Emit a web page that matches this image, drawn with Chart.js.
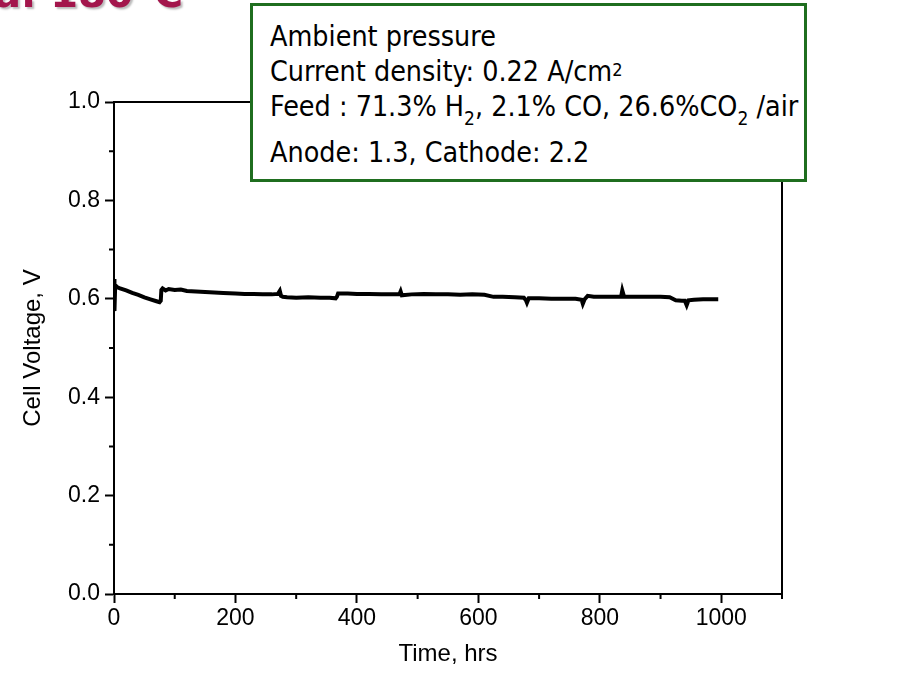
<!DOCTYPE html>
<html>
<head>
<meta charset="utf-8">
<script src="https://cdn.jsdelivr.net/npm/chart.js@4.4.1/dist/chart.umd.min.js"></script>
<style>
  body { margin: 0; background: #fff; }
  #wrap { position: relative; width: 898px; height: 674px; overflow: hidden; }
  #cellChart { position: absolute; left: 0; top: 0; }
  #headline {
    position: absolute; right: 715px; top: -30px; line-height: 40px;
    font: bold 40px 'DejaVu Sans', sans-serif; color: #a3164c;
    text-shadow: 2px 2px 2px #bbb; white-space: nowrap;
  }
  #note {
    position: absolute; left: 250px; top: 3px; width: 551px; height: 173px;
    border: 3.5px solid #1f6e1f; background: #fff;
    font-family: 'DejaVu Sans Condensed', 'DejaVu Sans', sans-serif; font-size: 28.4px; color: #000;
  }
  #note div { position: absolute; left: 17px; line-height: 30px; white-space: nowrap; }
  #note sub { font-size: 19px; vertical-align: -9px; line-height: 0; }
  #note sup { font-size: 18px; vertical-align: 5px; line-height: 0; }
</style>
</head>
<body>
<div id="wrap">
  <canvas id="cellChart" width="898" height="674"></canvas>
  <div id="headline">Durability test at ca. 180°C</div>
  <div id="note">
    <div style="top:16px">Ambient pressure</div>
    <div style="top:51px">Current density: 0.22 A/cm<sup>2</sup></div>
    <div style="top:86px">Feed : 71.3% H<sub>2</sub>, 2.1% CO, 26.6%CO<sub>2</sub> /air</div>
    <div style="top:132px">Anode: 1.3, Cathode: 2.2</div>
  </div>
</div>
<script>
const timeHrs = [
  0, 0.5, 1, 2, 5, 10, 20, 30, 40, 50, 60, 70, 75, 77, 78, 80, 85, 90, 100, 110,
  120, 135, 150, 165, 180, 200, 215, 230, 245, 260, 270, 273, 275, 278, 285, 300, 320, 340, 355, 365,
  367, 369, 385, 400, 420, 440, 460, 470, 472, 474, 490, 510, 530, 550, 570, 590, 610, 625, 640, 660,
  675, 678, 680, 683, 700, 720, 740, 760, 770, 772, 775, 780, 790, 800, 815, 830, 835, 837, 840, 860,
  880, 900, 915, 925, 935, 940, 943, 946, 955, 970, 985, 995
];
const cellVoltage = [
  0.600, 0.640, 0.575, 0.628, 0.624, 0.621, 0.617, 0.612, 0.608, 0.603, 0.599, 0.595, 0.593, 0.596, 0.618, 0.621, 0.617, 0.620, 0.618, 0.619,
  0.616, 0.615, 0.614, 0.613, 0.612, 0.611, 0.610, 0.610, 0.609, 0.609, 0.610, 0.616, 0.606, 0.604, 0.603, 0.602, 0.603, 0.602, 0.602, 0.601,
  0.604, 0.611, 0.611, 0.610, 0.610, 0.609, 0.609, 0.609, 0.615, 0.607, 0.609, 0.610, 0.609, 0.609, 0.608, 0.609, 0.608, 0.604, 0.604, 0.603,
  0.602, 0.598, 0.592, 0.601, 0.601, 0.600, 0.600, 0.600, 0.598, 0.590, 0.599, 0.606, 0.604, 0.604, 0.604, 0.604, 0.604, 0.617, 0.604, 0.604,
  0.604, 0.604, 0.603, 0.597, 0.596, 0.596, 0.587, 0.597, 0.598, 0.599, 0.599, 0.599
];

const xTickValues = [0, 200, 400, 600, 800, 1000];
const xMinorTicks = [100, 300, 500, 700, 900, 1100];
const yTickValues = [0, 0.2, 0.4, 0.6, 0.8, 1.0];
const yMinorTicks = [0.1, 0.3, 0.5, 0.7, 0.9];

const AXIS_FONT = 'Liberation Sans, Arial, sans-serif';

// closed frame (top/right) + short minor ticks, like the Origin plot
const frameTicksPlugin = {
  id: 'frameTicks',
  afterDraw(chart) {
    const { ctx, chartArea: { left, right, top, bottom }, scales: { x, y } } = chart;
    ctx.save();
    ctx.strokeStyle = '#000';
    ctx.lineWidth = 2;
    ctx.beginPath();
    ctx.moveTo(left, top);
    ctx.lineTo(right, top);
    ctx.lineTo(right, bottom);
    xMinorTicks.forEach(v => {
      const px = x.getPixelForValue(v);
      ctx.moveTo(px, bottom);
      ctx.lineTo(px, bottom + 5);
    });
    yMinorTicks.forEach(v => {
      const py = y.getPixelForValue(v);
      ctx.moveTo(left, py);
      ctx.lineTo(left - 5, py);
    });
    ctx.stroke();
    ctx.restore();
  }
};

new Chart(document.getElementById('cellChart').getContext('2d'), {
  type: 'line',
  data: {
    datasets: [{
      data: timeHrs.map((t, i) => ({ x: t, y: cellVoltage[i] })),
      borderColor: '#000',
      borderWidth: 4,
      pointRadius: 0,
      tension: 0
    }]
  },
  options: {
    responsive: false,
    animation: false,
    layout: { padding: { top: 102, right: 116, left: 0, bottom: 0 } },
    plugins: { legend: { display: false }, tooltip: { enabled: false } },
    scales: {
      x: {
        type: 'linear',
        min: 0,
        max: 1100,
        afterBuildTicks: s => { s.ticks = xTickValues.map(v => ({ value: v })); },
        afterFit: s => { s.height = 80; },
        ticks: {
          padding: 2,
          color: '#000',
          font: { family: AXIS_FONT, size: 23 },
          maxRotation: 0,
          callback: v => String(v)
        },
        grid: { drawOnChartArea: false, tickLength: 9, tickWidth: 2, tickColor: '#000' },
        border: { display: true, color: '#000', width: 2 },
        title: {
          display: true,
          text: 'Time, hrs',
          color: '#000',
          font: { family: AXIS_FONT, size: 24 },
          padding: { top: 0, bottom: 5 }
        }
      },
      y: {
        min: 0,
        max: 1,
        afterBuildTicks: s => { s.ticks = yTickValues.map(v => ({ value: v })); },
        afterFit: s => { s.width = 114; },
        ticks: {
          padding: 5,
          color: '#000',
          font: { family: AXIS_FONT, size: 23 },
          callback: v => Number(v).toFixed(1)
        },
        grid: { drawOnChartArea: false, tickLength: 9, tickWidth: 2, tickColor: '#000' },
        border: { display: true, color: '#000', width: 2 },
        title: {
          display: true,
          text: 'Cell Voltage, V',
          color: '#000',
          font: { family: AXIS_FONT, size: 24 },
          padding: { top: 19, bottom: 0 }
        }
      }
    }
  },
  plugins: [frameTicksPlugin]
});
</script>
</body>
</html>
